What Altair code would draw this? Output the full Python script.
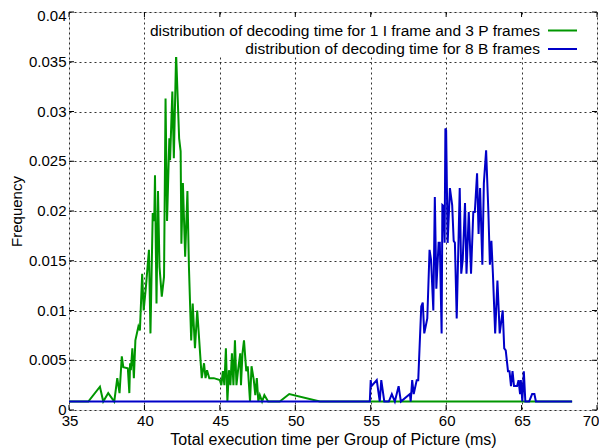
import altair as alt
import pandas as pd

# green: 1 I frame + 3 P frames
gx = [35, 36.28, 37.05, 37.27, 37.6, 38.0, 38.2, 38.35, 38.5, 38.6,
      38.9, 39.0, 39.05, 39.1, 39.2, 39.3, 39.4, 39.6, 39.7, 39.85,
      39.95, 40.1, 40.3, 40.4, 40.55, 40.65, 40.7, 40.8, 40.9, 41.0,
      41.15, 41.3, 41.4, 41.5, 41.65, 41.7, 41.85, 41.95, 42.1, 42.3,
      42.4, 42.45, 42.55, 42.7, 42.85, 42.95, 43.1, 43.2, 43.35, 43.5,
      43.8, 43.95, 44.05, 44.15, 44.3, 44.6, 45.0, 45.1, 45.2, 45.3,
      45.4, 45.5, 45.6, 45.7, 45.8, 45.9, 46.0, 46.1, 46.2, 46.35,
      46.4, 46.5, 46.6, 46.75, 46.85, 47.0, 47.1, 47.25, 47.35, 47.45,
      47.55, 47.65, 47.8, 47.95, 48.2, 48.97, 49.6, 51.63, 68.35]
gy = [0.00085, 0.00085, 0.00234, 0.00085, 0.0017, 0.00085, 0.0032, 0.0017, 0.0054, 0.0043,
      0.0042, 0.0017, 0.0047, 0.004, 0.0062, 0.0032, 0.007, 0.0084, 0.008, 0.0137,
      0.01, 0.0124, 0.0161, 0.0077, 0.0198, 0.019, 0.0236, 0.0107, 0.022, 0.0144,
      0.0114, 0.0134, 0.0313, 0.019, 0.0273, 0.0251, 0.032, 0.0253, 0.0358, 0.0273,
      0.026, 0.0167, 0.0228, 0.0154, 0.022, 0.0144, 0.007, 0.0107, 0.0062, 0.01,
      0.0032, 0.0047, 0.0032, 0.004, 0.0032, 0.0032, 0.003, 0.0025, 0.0039, 0.0025,
      0.0062, 0.00085, 0.004, 0.0025, 0.0057, 0.0025, 0.007, 0.0025, 0.0039, 0.0057,
      0.0025, 0.0057, 0.007, 0.0039, 0.0044, 0.00085, 0.0044, 0.003, 0.0015, 0.0032,
      0.00085, 0.0015, 0.00085, 0.0015, 0.00085, 0.00085, 0.0016, 0.00085, 0.00085]

# blue: 8 B frames
bx = [35, 54.94, 55.0, 55.05, 55.4, 55.6, 55.7, 55.9, 56.2, 56.4,
      56.6, 56.85, 57.0, 57.6, 57.65, 57.75, 57.85, 58.05, 58.15, 58.35,
      58.45, 58.55, 58.75, 58.9, 59.0, 59.15, 59.25, 59.35, 59.5, 59.58,
      59.7, 59.75, 59.82, 59.9, 59.95, 60.0, 60.1, 60.25, 60.4, 60.5,
      60.58, 60.7, 60.9, 61.0, 61.1, 61.25, 61.35, 61.5, 61.65, 61.8,
      61.9, 62.05, 62.15, 62.25, 62.4, 62.5, 62.65, 62.8, 62.9, 63.0,
      63.1, 63.25, 63.4, 63.55, 63.75, 63.85, 63.95, 64.1, 64.2, 64.3,
      64.4, 64.5, 64.7, 64.8, 64.9, 64.95, 65.05, 65.15, 65.25, 65.5,
      65.7, 65.85, 65.95, 68.35]
by = [0.00085, 0.00085, 0.003, 0.0024, 0.003, 0.00085, 0.003, 0.00085, 0.00085, 0.0016,
      0.00085, 0.0024, 0.00085, 0.0016, 0.00085, 0.003, 0.0016, 0.003, 0.003, 0.0104,
      0.0108, 0.0077, 0.0092, 0.0161, 0.0151, 0.01, 0.0214, 0.0122, 0.0168, 0.0168,
      0.0077, 0.0206, 0.0205, 0.0168, 0.0283, 0.0281, 0.0168, 0.0223, 0.0206, 0.017,
      0.0168, 0.0092, 0.0223, 0.0137, 0.0151, 0.0208, 0.0137, 0.0199, 0.0137, 0.0199,
      0.0199, 0.0238, 0.0177, 0.0223, 0.0146, 0.0228, 0.0261, 0.0199, 0.0146, 0.017,
      0.0137, 0.0077, 0.013, 0.0077, 0.01, 0.0062, 0.006, 0.0039, 0.0039, 0.0024,
      0.0039, 0.0024, 0.0024, 0.003, 0.0016, 0.003, 0.00085, 0.0039, 0.00085, 0.00085,
      0.0016, 0.0016, 0.00085, 0.00085]

x_ticks = [35, 40, 45, 50, 55, 60, 65, 70]
y_ticks = [0, 0.005, 0.01, 0.015, 0.02, 0.025, 0.03, 0.035, 0.04]
y_tick_labels = ["0", "0.005", "0.01", "0.015", "0.02", "0.025", "0.03", "0.035", "0.04"]
series_labels = ["distribution of decoding time for 1 I frame and 3 P frames",
                 "distribution of decoding time for 8 B frames"]
series_colors = ["#009600", "#0000C8"]

FONT = "Liberation Sans"
FS = 15
W, H = 528, 398

xs = alt.Scale(domain=[35, 70], nice=False, zero=False)
ys = alt.Scale(domain=[0, 0.04], nice=False)

xaxis = alt.Axis(values=x_ticks, grid=True, gridDash=[2, 3], gridColor="#000",
                 gridOpacity=0.8, tickSize=0, labels=False, domain=False,
                 title="Total execution time per Group of Picture (ms)",
                 titleFont=FONT, titleFontSize=16, titleFontWeight="normal",
                 titleColor="#000", titlePadding=21)
yaxis = alt.Axis(values=y_ticks, grid=True, gridDash=[2, 3], gridColor="#000",
                 gridOpacity=0.8, tickSize=0, labels=False, domain=False,
                 title="Frequency", titleFont=FONT, titleFontSize=FS,
                 titleFontWeight="normal", titleColor="#000", titlePadding=44)

green_df = pd.DataFrame({"t": gx, "f": gy})
blue_df = pd.DataFrame({"t": bx, "f": by})

green = alt.Chart(green_df).mark_line(color=series_colors[0], strokeWidth=2).encode(
    x=alt.X("t:Q", scale=xs, axis=xaxis),
    y=alt.Y("f:Q", scale=ys, axis=yaxis),
    order="t:Q",
)
blue = alt.Chart(blue_df).mark_line(color=series_colors[1], strokeWidth=2).encode(
    x=alt.X("t:Q", scale=xs),
    y=alt.Y("f:Q", scale=ys),
    order="t:Q",
)

# y tick labels (top one nudged down like the reference)
ylab_df = pd.DataFrame({"f": y_ticks, "lab": y_tick_labels})
ylabels = alt.Chart(ylab_df).transform_filter("datum.f < 0.04").mark_text(
    align="right", baseline="middle", font=FONT, fontSize=FS, color="#000").encode(
    y=alt.Y("f:Q", scale=ys), x=alt.value(-2.5), text="lab:N")
ylabel_top = alt.Chart(ylab_df).transform_filter("datum.f >= 0.04").mark_text(
    align="right", baseline="middle", font=FONT, fontSize=FS, color="#000", dy=4).encode(
    y=alt.Y("f:Q", scale=ys), x=alt.value(-2.5), text="lab:N")

# x tick labels (last one kept inside the page)
xlab_df = pd.DataFrame({"t": x_ticks})
xlabels = alt.Chart(xlab_df).transform_filter("datum.t < 70").mark_text(
    align="center", baseline="middle", font=FONT, fontSize=FS, color="#000", dx=1).encode(
    x=alt.X("t:Q", scale=xs), y=alt.value(H + 11), text=alt.Text("t:Q", format="d"))
xlabel_last = alt.Chart(xlab_df).transform_filter("datum.t >= 70").mark_text(
    align="center", baseline="middle", font=FONT, fontSize=FS, color="#000", dx=-6).encode(
    x=alt.X("t:Q", scale=xs), y=alt.value(H + 11), text=alt.Text("t:Q", format="d"))

# inward ticks on all four sides
xt_df = pd.DataFrame({"t": x_ticks})
yt_df = pd.DataFrame({"f": y_ticks})
tk_b = alt.Chart(xt_df).mark_rule(color="#000", strokeWidth=1).encode(
    x=alt.X("t:Q", scale=xs), y=alt.value(H), y2=alt.value(H - 5))
tk_t = alt.Chart(xt_df).mark_rule(color="#000", strokeWidth=1).encode(
    x=alt.X("t:Q", scale=xs), y=alt.value(0), y2=alt.value(5))
tk_l = alt.Chart(yt_df).mark_rule(color="#000", strokeWidth=1).encode(
    y=alt.Y("f:Q", scale=ys), x=alt.value(0), x2=alt.value(5))
tk_r = alt.Chart(yt_df).mark_rule(color="#000", strokeWidth=1).encode(
    y=alt.Y("f:Q", scale=ys), x=alt.value(W), x2=alt.value(W - 5))

# legend (box without border, text left of line sample)
leg_bg = alt.Chart(pd.DataFrame({"a": [0]})).mark_rect(fill="white").encode(
    x=alt.value(78), x2=alt.value(526), y=alt.value(5), y2=alt.value(45))
leg_layers = [leg_bg]
for i, (lab, col) in enumerate(zip(series_labels, series_colors)):
    yy = 18.5 + i * 18.5
    d = pd.DataFrame({"label": [lab]})
    leg_layers.append(alt.Chart(d).mark_text(align="right", baseline="middle",
                                             font=FONT, fontSize=15.5, color="#000").encode(
        x=alt.value(471), y=alt.value(yy), text="label:N"))
    leg_layers.append(alt.Chart(d).mark_rule(color=col, strokeWidth=2).encode(
        x=alt.value(479), x2=alt.value(508), y=alt.value(yy)))

chart = alt.layer(green, blue, ylabels, ylabel_top, xlabels, xlabel_last,
                  tk_b, tk_t, tk_l, tk_r, *leg_layers).properties(
    width=W, height=H,
    autosize=alt.AutoSizeParams(type="none"),
    padding={"left": 61, "top": 4, "right": 2, "bottom": 38},
).configure_view(stroke="#000", strokeWidth=1).configure(background="white")

chart.save("out.html", embed_options={"renderer": "svg", "actions": False})
